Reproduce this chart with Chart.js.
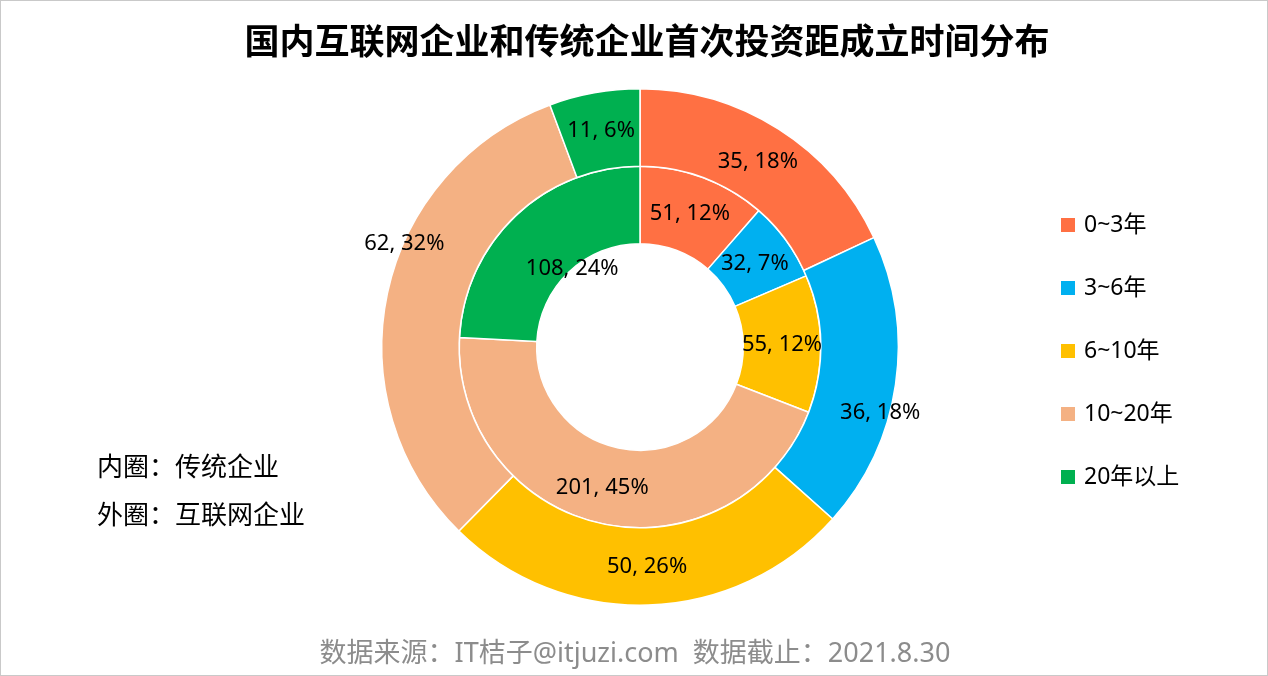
<!DOCTYPE html>
<html>
<head>
<meta charset="utf-8">
<script src="https://cdn.jsdelivr.net/npm/chart.js@4"></script>
<style>
  html, body { margin: 0; padding: 0; background: #fff; }
  #wrap { position: relative; width: 1266px; height: 674px; border: 1px solid #c9c9c9; overflow: hidden;
          font-family: "Noto Sans", "Noto Sans CJK SC", sans-serif; }
  #myChart { position: absolute; left: -1px; top: -1px; }
  .title { position: absolute; left: 0; width: 1292px; top: 12px; text-align: center;
           font-family: "Noto Sans CJK SC", sans-serif;
           font-size: 35px; font-weight: bold; color: #000; }
  .note { position: absolute; left: 96px; font-size: 26px; color: #000; }
  .source { position: absolute; left: 0; width: 1268px; top: 630px; text-align: center; font-size: 27px; color: #8c8c8c; }
  .legend { position: absolute; left: 1060px; top: 204px; }
  .legend div { height: 63px; font-size: 23px; color: #000; display: flex; align-items: flex-start; }
  .legend span.box { width: 14px; height: 14px; margin: 13px 9px 0 0; display: inline-block; }
</style>
</head>
<body>
<div id="wrap">
  <canvas id="myChart" width="1268" height="676"></canvas>
  <div class="title">国内互联网企业和传统企业首次投资距成立时间分布</div>
  <div class="note" style="top:445px">内圈：传统企业</div>
  <div class="note" style="top:493px">外圈：互联网企业</div>
  <div class="legend" id="legend"></div>
  <div class="source">数据来源：IT桔子@itjuzi.com&nbsp; 数据截止：2021.8.30</div>
</div>
<script>
var categories = ['0~3年', '3~6年', '6~10年', '10~20年', '20年以上'];
var colors = ['#FF7043', '#00B0F0', '#FFC000', '#F4B183', '#00B050'];

// outer ring: 互联网企业
var internetValues = [35, 36, 50, 62, 11];
var internetPct = [18, 18, 26, 32, 6];
// inner ring: 传统企业
var traditionalValues = [51, 32, 55, 201, 108];
var traditionalPct = [12, 7, 12, 45, 24];

// legend
var legendEl = document.getElementById('legend');
categories.forEach(function (c, i) {
  var row = document.createElement('div');
  row.innerHTML = '<span class="box" style="background:' + colors[i] + '"></span>' + c;
  legendEl.appendChild(row);
});

// draws "value, pct%" in the middle of each slice
var sliceLabels = {
  id: 'sliceLabels',
  afterDatasetsDraw: function (chart, args, opts) {
    var ctx = chart.ctx;
    ctx.save();
    ctx.font = '22px "Noto Sans", "Noto Sans CJK SC", sans-serif';
    ctx.fillStyle = '#000';
    ctx.textAlign = 'center';
    ctx.textBaseline = 'middle';
    chart.data.datasets.forEach(function (ds, di) {
      var meta = chart.getDatasetMeta(di);
      meta.data.forEach(function (arc, i) {
        var p = arc.getProps(['x', 'y', 'startAngle', 'endAngle', 'innerRadius', 'outerRadius'], true);
        var mid = (p.startAngle + p.endAngle) / 2;
        var r = (p.innerRadius + p.outerRadius) / 2;
        var nudge = (opts.nudge[di] && opts.nudge[di][i]) || [0, 0];
        var x = p.x + Math.cos(mid) * r + nudge[0];
        var y = p.y + Math.sin(mid) * r + nudge[1];
        ctx.fillText(ds.data[i] + ', ' + ds.pct[i] + '%', x, y);
      });
    });
    ctx.restore();
  }
};

var ctx = document.getElementById('myChart').getContext('2d');
var chart = new Chart(ctx, {
  type: 'doughnut',
  data: {
    labels: categories,
    datasets: [{
      label: '互联网企业',
      data: internetValues,
      pct: internetPct,
      backgroundColor: colors,
      borderColor: '#fff',
      borderWidth: 1.5
    }, {
      label: '传统企业',
      data: traditionalValues,
      pct: traditionalPct,
      backgroundColor: colors,
      borderColor: '#fff',
      borderWidth: 1.5
    }]
  },
  options: {
    responsive: false,
    animation: false,
    cutout: '40%',
    layout: { padding: { left: 381, right: 369, top: 88, bottom: 70 } },
    plugins: {
      legend: { display: false },
      tooltip: { enabled: false },
      sliceLabels: {
        nudge: {
          0: { 1: [23, 34], 3: [-21, -57] },
          1: { 3: [-8, 2], 4: [30, 25] }
        }
      }
    }
  },
  plugins: [sliceLabels]
});
</script>
</body>
</html>
